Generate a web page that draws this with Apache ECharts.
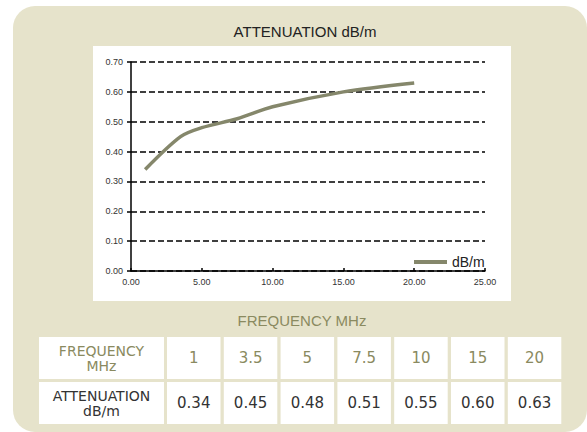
<!DOCTYPE html>
<html>
<head>
<meta charset="utf-8">
<script src="https://cdn.jsdelivr.net/npm/echarts@6/dist/echarts.min.js"></script>
<style>
html,body{margin:0;padding:0;background:#fff;}
#c{width:587px;height:432px;}
</style>
</head>
<body>
<div id="c"></div>
<script>
// ---- data ----
const chartTitle = 'ATTENUATION dB/m';
const xAxisTitle = 'FREQUENCY MHz';
const seriesName = 'dB/m';
const frequencies = [1, 3.5, 5, 7.5, 10, 15, 20];
const attenuation = [0.34, 0.45, 0.48, 0.51, 0.55, 0.60, 0.63];
const freqLabels = ['1', '3.5', '5', '7.5', '10', '15', '20'];
const attenLabels = ['0.34', '0.45', '0.48', '0.51', '0.55', '0.60', '0.63'];
const rowHeaders = ['FREQUENCY\nMHz', 'ATTENUATION\ndB/m'];

// ---- styles ----
const panelColor = '#e6e3cb';
const olive = '#8a8a60';
const lineColor = '#85876b';
const sansFont = 'Liberation Sans';
const tableFont = 'DejaVu Sans';

const chart = echarts.init(document.getElementById('c'), null, {renderer: 'svg'});

const lineData = frequencies.map((f, i) => [f, attenuation[i]]);

const graphics = [];
graphics.push({type: 'rect', shape: {x: 13, y: 6, width: 574, height: 426, r: 22}, style: {fill: panelColor}, z: -10, silent: true});
graphics.push({type: 'rect', shape: {x: 93, y: 46, width: 418, height: 255}, style: {fill: '#ffffff'}, z: -9, silent: true});
graphics.push({type: 'text', x: 305, y: 31, style: {text: chartTitle, fill: '#222', fontSize: 15, fontFamily: sansFont, textAlign: 'center', textVerticalAlign: 'middle'}});
graphics.push({type: 'text', x: 302, y: 320, style: {text: xAxisTitle, fill: olive, fontSize: 15, fontFamily: sansFont, textAlign: 'center', textVerticalAlign: 'middle'}});

const rowTops = [337, 382];
const rowH = 42;
const firstX = 39, firstW = 125;
const colX0 = 167, colStep = 56.8, colW = 53.5;
const rowColors = [olive, '#333'];
const rowValues = [freqLabels, attenLabels];
rowTops.forEach((ry, r) => {
  graphics.push({type: 'rect', shape: {x: firstX, y: ry, width: firstW, height: rowH}, style: {fill: '#fff'}, silent: true});
  graphics.push({type: 'text', x: firstX + firstW / 2, y: ry + rowH / 2, style: {text: rowHeaders[r], fill: rowColors[r], fontSize: 14, fontFamily: tableFont, textAlign: 'center', textVerticalAlign: 'middle', lineHeight: 15}});
  rowValues[r].forEach((v, c) => {
    const cx = colX0 + c * colStep;
    graphics.push({type: 'rect', shape: {x: cx, y: ry, width: colW, height: rowH}, style: {fill: '#fff'}, silent: true});
    graphics.push({type: 'text', x: cx + colW / 2, y: ry + rowH / 2, style: {text: v, fill: rowColors[r], fontSize: 15, fontFamily: tableFont, textAlign: 'center', textVerticalAlign: 'middle'}});
  });
});

chart.setOption({
  backgroundColor: 'transparent',
  animation: false,
  textStyle: {fontFamily: sansFont},
  graphic: graphics,
  grid: {left: 131, right: 102, top: 62, bottom: 161, containLabel: false},
  legend: {
    data: [{name: seriesName, icon: 'rect'}],
    left: 409, top: 250,
    itemWidth: 33, itemHeight: 4, itemGap: 4,
    textStyle: {fontSize: 14, color: '#222', fontFamily: sansFont}
  },
  xAxis: {
    type: 'value', min: 0, max: 25, interval: 5,
    axisLine: {show: true, lineStyle: {color: '#000', width: 1.5}},
    axisTick: {show: true, inside: true, length: 3, lineStyle: {color: '#000', width: 1.5}},
    axisLabel: {fontSize: 9, color: '#333', margin: 6, fontFamily: sansFont, formatter: v => v.toFixed(2)},
    splitLine: {show: false}
  },
  yAxis: {
    type: 'value', min: 0, max: 0.7, interval: 0.1,
    axisLine: {show: true, lineStyle: {color: '#000', width: 1.5}},
    axisTick: {show: true, inside: false, length: 4, lineStyle: {color: '#000', width: 1.5}},
    axisLabel: {fontSize: 9, color: '#333', margin: 8, fontFamily: sansFont, formatter: v => v.toFixed(2)},
    splitLine: {show: true, lineStyle: {color: '#000', width: 1.5, type: [6, 3]}}
  },
  series: [{
    name: seriesName,
    type: 'line',
    data: lineData,
    smooth: 0.3,
    showSymbol: false,
    symbol: 'none',
    lineStyle: {color: lineColor, width: 3.5},
    itemStyle: {color: lineColor}
  }]
});
</script>
</body>
</html>
